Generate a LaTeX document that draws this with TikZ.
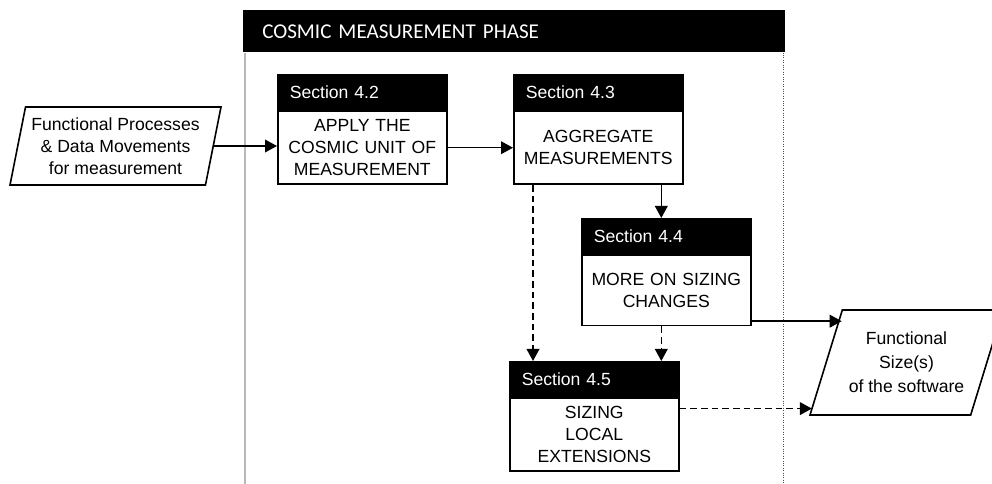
\documentclass[tikz,border=0pt]{standalone}
\usepackage{fontspec}
\setmainfont{Liberation Sans}
\newfontfamily\phasefont{Carlito}
\usetikzlibrary{arrows.meta,positioning,shapes.geometric}

\begin{document}
\begin{tikzpicture}[
  x=0.75pt,y=-0.75pt,
  font=\fontsize{13.2}{16.5}\selectfont,
  phasebar/.style={fill=black,text=white,anchor=north west,inner xsep=14.25pt,
    minimum width=406.5pt,minimum height=31.5pt,text width=378pt,align=left,
    font=\phasefont\fontsize{15.8}{18}\selectfont},
  sechead/.style={draw,line width=1.2pt,fill=black,text=white,anchor=north west,
    minimum width=126.75pt,minimum height=26.25pt,inner xsep=9pt,
    text width=108.75pt,align=left},
  secbody/.style={draw,line width=1.2pt,fill=white,minimum width=126.75pt,
    text width=120pt,align=center,inner sep=0pt},
  io/.style={draw,line width=1.2pt,trapezium,trapezium stretches body,
    align=center,inner sep=2pt},
  ptr/.style={-{Triangle[length=9pt,width=9.5pt]},line width=1.1pt},
  dptr/.style={ptr,dash pattern=on 5pt off 3pt},
]
\useasboundingbox (0,0) rectangle (992,484);

% measurement phase lane
\node[phasebar] (phase) at (243,10) {COSMIC MEASUREMENT PHASE};
\draw[gray!55,line width=1.6pt] ([xshift=1.5pt]phase.south west) -- ++(0,432);
\draw[black!70,densely dotted,line width=0.8pt] ([xshift=-1.5pt]phase.south east) -- ++(0,432);

% input and output
\node[io,trapezium left angle=76,trapezium right angle=104,
  minimum width=158.25pt,minimum height=58.5pt] (fpdm) at (115.5,146)
  {Functional Processes\\\& Data Movements\\for measurement};
\node[io,trapezium left angle=64,trapezium right angle=116,
  minimum width=144.75pt,minimum height=78.75pt,
  font=\fontsize{13.2}{18}\selectfont] (fsize) at (906.5,362.5)
  {Functional\\Size(s)\\of the software};

% sections
\node[sechead] (s42h) at (277,74) {Section 4.2};
\node[secbody,below=0pt of s42h,minimum height=54.5pt] (s42)
  {APPLY THE\\COSMIC UNIT OF\\MEASUREMENT};
\node[sechead] (s43h) at (513,74) {Section 4.3};
\node[secbody,below=0pt of s43h,minimum height=54.5pt] (s43)
  {AGGREGATE\\MEASUREMENTS};
\node[sechead] (s44h) at (581,218) {Section 4.4};
\node[secbody,below=0pt of s44h,minimum height=52.5pt] (s44)
  {MORE ON SIZING\\CHANGES};
\node[sechead] (s45h) at (509,361) {Section 4.5};
\node[secbody,below=0pt of s45h,minimum height=54.5pt] (s45)
  {SIZING\\LOCAL\\EXTENSIONS};

% flow
\coordinate (trunk) at ([xshift=-3.75pt]s44h.north);
\coordinate (s45out) at ([yshift=-8.25pt]s45.north east);
\draw[ptr] (fpdm.east) -- (fpdm.east -| s42.west);
\draw[ptr] (s42.east) -- (s42.east -| s43.west);
\draw[ptr] (trunk |- s43.south) -- (trunk);
\draw[dptr] (trunk |- s44.south) -- (trunk |- s45h.north);
\draw[dptr] ([xshift=15pt]s43.south west) -- ([xshift=15pt]s43.south west |- s45h.north);
\draw[ptr] ([yshift=3.75pt]s44.south east) -- ([yshift=3.75pt]s44.south east -| fsize.top left corner);
\draw[dptr] (s45out) -- ([xshift=2.25pt]fsize.bottom left corner |- s45out);
\end{tikzpicture}
\end{document}
